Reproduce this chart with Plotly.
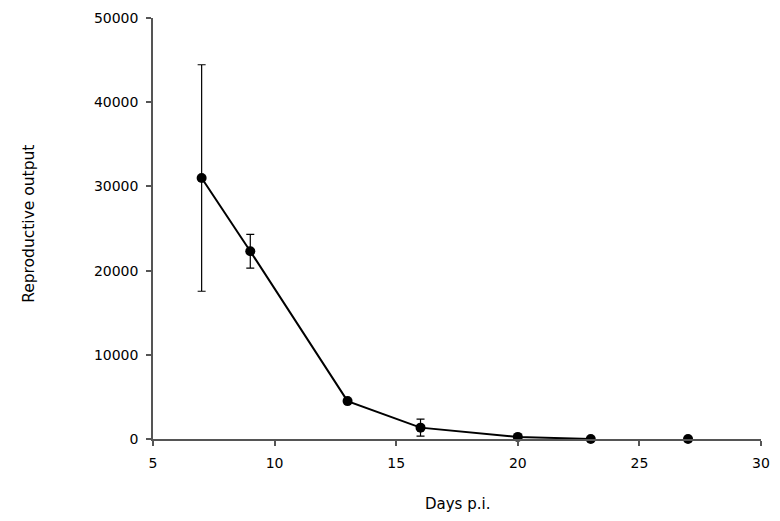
import plotly.graph_objects as go

days = [7, 9, 13, 16, 20, 23, 27]
output = [31000, 22300, 4500, 1350, 250, 0, 0]
err = [13450, 2000, 0, 1000, 0, 0, 0]
x_ticks = [5, 10, 15, 20, 25, 30]
y_ticks = [0, 10000, 20000, 30000, 40000, 50000]

FONT = "DejaVu Sans, Verdana, sans-serif"

fig = go.Figure()
# connected portion
fig.add_trace(go.Scatter(
    x=days[:6], y=output[:6], mode="lines",
    line=dict(color="black", width=2), hoverinfo="skip", showlegend=False))
fig.add_trace(go.Scatter(
    x=days, y=output, mode="markers",
    marker=dict(color="black", size=10),
    error_y=dict(type="data", array=err, visible=True, color="black",
                 thickness=1.2, width=4),
    showlegend=False, cliponaxis=False))

fig.update_layout(
    width=780, height=521,
    margin=dict(l=153, r=19, t=18, b=82, autoexpand=False),
    plot_bgcolor="white", paper_bgcolor="white",
    font=dict(family=FONT, size=14, color="black"),
    xaxis=dict(range=[5, 30], tickvals=x_ticks, automargin=False,
               showline=True, linecolor="#555", linewidth=1.5,
               ticks="outside", ticklen=5, tickcolor="#555", tickwidth=1.5,
               showgrid=False, zeroline=False, ticklabelstandoff=5),
    yaxis=dict(range=[0, 50000], tickvals=y_ticks, automargin=False,
               showline=True, linecolor="#555", linewidth=1.5,
               ticks="outside", ticklen=5, tickcolor="#555", tickwidth=1.5,
               showgrid=False, zeroline=False, tickformat="d", ticklabelstandoff=5),
    annotations=[
        dict(text="Days p.i.", xref="paper", yref="paper", x=0.5, y=-0.155,
             xanchor="center", yanchor="middle", showarrow=False,
             font=dict(family=FONT, size=15)),
        dict(text="Reproductive output", xref="paper", yref="paper",
             x=-0.203, y=0.51, xanchor="center", yanchor="middle", textangle=-90,
             showarrow=False, font=dict(family=FONT, size=15.5)),
    ],
)
fig.write_html("out.html", config={"displayModeBar": False},
               post_script="document.body.style.margin='0';document.body.style.overflow='hidden';")
